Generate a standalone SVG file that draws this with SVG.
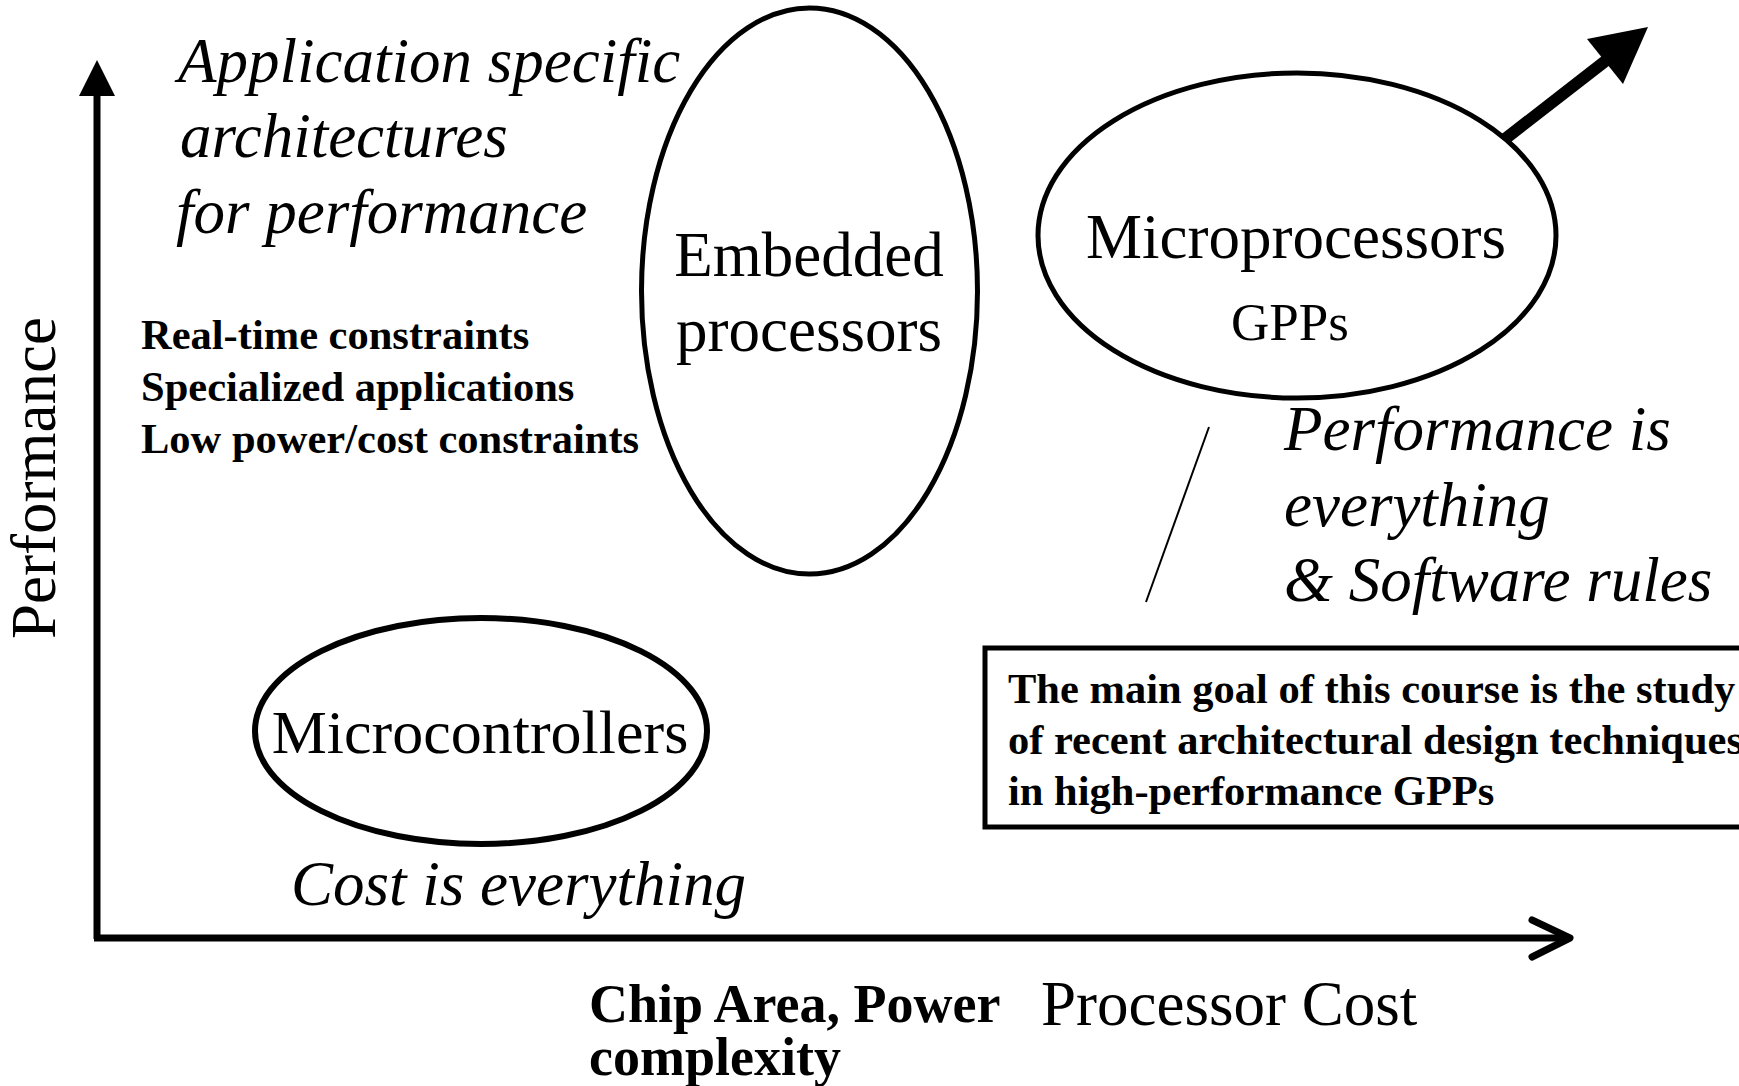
<svg xmlns="http://www.w3.org/2000/svg" width="1739" height="1086" viewBox="0 0 1739 1086">
<style>
.t{font-family:"Liberation Serif","Times New Roman",serif;fill:#000}
.i{font-style:italic;font-size:63px}
.r{font-size:63px}
.b{font-weight:bold;font-size:42.5px}
.shape{fill:none;stroke:#000}
</style>
<rect width="1739" height="1086" fill="#fff"/>
<g id="connectors">
<line x1="97" y1="939" x2="97" y2="92" stroke="#000" stroke-width="7"/>
<polygon points="97,60 79,96 115,96" fill="#000"/>
<line x1="94" y1="938" x2="1568" y2="938" stroke="#000" stroke-width="7"/>
<polyline points="1532,920 1570,938 1532,957" fill="none" stroke="#000" stroke-width="7" stroke-linecap="round" stroke-linejoin="round"/>
<line x1="1505" y1="139" x2="1608" y2="59" stroke="#000" stroke-width="12"/>
<polygon points="1648,27 1587,39 1623,84" fill="#000"/>
<line x1="1209" y1="427" x2="1146" y2="602" stroke="#000" stroke-width="2"/>
</g>
<g id="axis-labels">
<text class="t r" text-anchor="middle" transform="translate(55,478) rotate(-90)">Performance</text>
<text class="t" font-weight="bold" font-size="54" x="589" y="1022">Chip Area, Power</text>
<text class="t" font-weight="bold" font-size="54" x="589" y="1075">complexity</text>
<text class="t r" x="1041" y="1025">Processor Cost</text>
</g>
<g id="app-specific">
<text class="t i" x="178" y="82">Application specific</text>
<text class="t i" x="180" y="157">architectures</text>
<text class="t i" x="176" y="233">for performance</text>
</g>
<g id="constraints">
<text class="t b" x="141" y="349">Real-time constraints</text>
<text class="t b" x="141" y="401">Specialized applications</text>
<text class="t b" x="141" y="453">Low power/cost constraints</text>
</g>
<g id="embedded">
<ellipse class="shape" cx="809.5" cy="291" rx="168" ry="283" stroke-width="5"/>
<text class="t r" text-anchor="middle" x="809" y="276">Embedded</text>
<text class="t r" text-anchor="middle" x="809" y="351">processors</text>
</g>
<g id="microprocessors">
<ellipse class="shape" cx="1297" cy="235.5" rx="259" ry="162.5" stroke-width="5"/>
<text class="t r" text-anchor="middle" x="1296" y="258">Microprocessors</text>
<text class="t" font-size="53" text-anchor="middle" x="1290" y="340">GPPs</text>
</g>
<g id="performance-note">
<text class="t i" x="1284" y="450">Performance is</text>
<text class="t i" x="1284" y="526">everything</text>
<text class="t i" x="1284" y="601">&amp; Software rules</text>
</g>
<g id="goal-box">
<rect class="shape" x="985" y="648" width="800" height="179" stroke-width="5"/>
<text class="t b" x="1008" y="703">The main goal of this course is the study</text>
<text class="t b" x="1008" y="754">of recent architectural design techniques</text>
<text class="t b" x="1008" y="805">in high-performance GPPs</text>
</g>
<g id="microcontrollers">
<ellipse class="shape" cx="481" cy="731" rx="226" ry="113" stroke-width="6"/>
<text class="t" font-size="62" text-anchor="middle" x="480" y="753">Microcontrollers</text>
</g>
<g id="cost-note">
<text class="t i" x="291" y="905">Cost is everything</text>
</g>
</svg>
